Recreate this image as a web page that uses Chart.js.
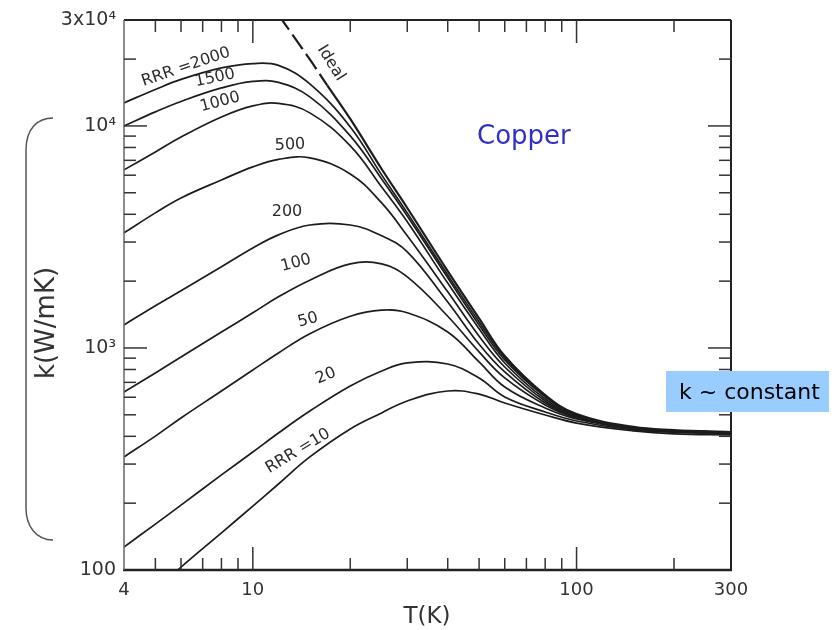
<!DOCTYPE html>
<html>
<head>
<meta charset="utf-8">
<title>Copper thermal conductivity</title>
<script src="https://cdn.jsdelivr.net/npm/chart.js@4.4.0/dist/chart.umd.min.js"></script>
<style>
    html, body { margin: 0; padding: 0; background: #ffffff; }
    #wrap { width: 836px; height: 630px; }
</style>
</head>
<body>
<div id="wrap"><canvas id="chart" width="836" height="630"></canvas></div>
<script>
// Temperatures (K) shared by the RRR curves
const temps = [4, 5, 6, 8, 10, 12, 15, 20, 25, 30, 40, 50, 60, 80, 100, 150, 200, 300];

// Thermal conductivity k (W/mK), one array per RRR
const rrr2000 = [12700, 14600, 16200, 18250, 19100, 18730, 15460, 9900, 6020, 4060, 2130, 1310, 902, 608, 499, 436, 423, 418];
const rrr1500 = [10000, 11570, 12890, 14830, 15870, 15700, 13510, 9020, 5770, 3930, 2070, 1270, 883, 602, 499, 436, 423, 418];
const rrr1000 = [6340, 7640, 8920, 10980, 12310, 12630, 11450, 8130, 5310, 3700, 1960, 1220, 856, 589, 494, 436, 423, 418];
const rrr500 = [3300, 4060, 4740, 5710, 6540, 7070, 7180, 6080, 4500, 3200, 1790, 1130, 821, 577, 489, 436, 423, 418];
const rrr200 = [1270, 1550, 1810, 2320, 2820, 3230, 3580, 3580, 3200, 2710, 1610, 1040, 780, 565, 489, 436, 423, 418];
const rrr100 = [634, 772, 911, 1180, 1440, 1700, 2020, 2390, 2390, 2090, 1390, 960, 733, 554, 484, 432, 423, 414];
const rrr50 = [323, 401, 484, 640, 796, 950, 1160, 1390, 1480, 1440, 1180, 865, 667, 537, 479, 432, 418, 414];
const rrr20 = [127, 161, 196, 268, 340, 414, 520, 674, 788, 856, 847, 733, 602, 515, 469, 427, 418, 410];
const rrr10 = [62, 81, 103, 147, 194, 244, 323, 432, 510, 577, 640, 620, 565, 499, 459, 423, 410, 406];

// The "ideal" (pure copper) limit, dashed at low T
const idealTemps = [12, 15, 17, 20, 25, 30, 40, 50, 60, 80, 100, 150, 200, 300];
const idealK = [31620, 19930, 15190, 10750, 6400, 4270, 2220, 1360, 920, 614, 504, 441, 427, 418];

// Axis labels and tick marks
const xTickValues = [4, 10, 100, 300];
const xTickLabels = ['4', '10', '100', '300'];
const yTickValues = [100, 1000, 10000, 30000];
const yTickLabels = ['100', '10³', '10⁴', '3x10⁴'];
const xMajorTicks = [10, 100];
const xMinorTicks = [5, 6, 7, 8, 9, 20, 30, 40, 50, 60, 70, 80, 90, 200];
const yMajorTicks = [1000, 10000];
const yMinorTicks = [200, 300, 400, 500, 600, 700, 800, 900, 2000, 3000, 4000, 5000, 6000, 7000, 8000, 9000, 20000];

function series(label, values) {
    return {
        label: label,
        data: temps.map((t, i) => ({ x: t, y: values[i] }))
    };
}

function line(ctx, x1, y1, x2, y2) {
    ctx.beginPath();
    ctx.moveTo(x1, y1);
    ctx.lineTo(x2, y2);
    ctx.stroke();
}

function rotatedText(ctx, text, x, y, angleDeg) {
    ctx.save();
    ctx.translate(x, y);
    ctx.rotate(angleDeg * Math.PI / 180);
    ctx.fillText(text, 0, 0);
    ctx.restore();
}

const decorations = {
    id: 'decorations',
    afterDatasetsDraw(chart) {
        const { ctx, chartArea: a, scales: { x, y } } = chart;
        ctx.save();

        // Frame
        ctx.strokeStyle = '#222';
        ctx.lineWidth = 2.5;
        line(ctx, a.left - 1, a.bottom, a.right + 1, a.bottom);
        ctx.lineWidth = 2;
        line(ctx, a.left, a.top, a.right, a.top);
        line(ctx, a.right, a.top, a.right, a.bottom);
        ctx.strokeStyle = '#666';
        ctx.lineWidth = 1.5;
        line(ctx, a.left, a.top, a.left, a.bottom);

        // Inward ticks on all four sides
        ctx.strokeStyle = '#333';
        ctx.lineWidth = 1.5;
        const minorLen = 12, majorLen = 23;
        xMinorTicks.concat(xMajorTicks).forEach(v => {
            const px = x.getPixelForValue(v);
            const len = xMajorTicks.includes(v) ? majorLen : minorLen;
            line(ctx, px, a.bottom, px, a.bottom - len);
            line(ctx, px, a.top, px, a.top + len);
        });
        yMinorTicks.concat(yMajorTicks).forEach(v => {
            const py = y.getPixelForValue(v);
            const len = yMajorTicks.includes(v) ? majorLen : minorLen;
            line(ctx, a.left, py, a.left + len, py);
            line(ctx, a.right, py, a.right - len, py);
        });

        // Curve labels
        ctx.fillStyle = '#2a2a2a';
        ctx.font = '16px "DejaVu Sans"';
        ctx.textAlign = 'center';
        ctx.textBaseline = 'middle';
        rotatedText(ctx, 'RRR =2000', 186, 67, -19);
        rotatedText(ctx, '1500', 215, 78, -12);
        rotatedText(ctx, '1000', 220, 102, -15);
        rotatedText(ctx, '500', 290, 145, -3);
        rotatedText(ctx, '200', 287, 212, 0);
        rotatedText(ctx, '100', 296, 263, -15);
        rotatedText(ctx, '50', 308, 320, -15);
        rotatedText(ctx, '20', 326, 376, -22);
        rotatedText(ctx, 'RRR =10', 298, 451, -31);
        rotatedText(ctx, 'Ideal', 331, 63, 58);

        // Axis titles
        ctx.fillStyle = '#333';
        ctx.font = '23px "DejaVu Sans"';
        ctx.fillText('T(K)', 427, 617);
        ctx.font = '26px "DejaVu Sans"';
        rotatedText(ctx, 'k(W/mK)', 47, 323, -90);

        // Bracket on the left
        ctx.strokeStyle = '#555';
        ctx.lineWidth = 1.5;
        ctx.beginPath();
        ctx.moveTo(53, 118);
        ctx.bezierCurveTo(38, 118, 26, 128, 26, 150);
        ctx.lineTo(26, 508);
        ctx.bezierCurveTo(26, 526, 36, 540, 53, 540);
        ctx.stroke();

        // "Copper"
        ctx.fillStyle = '#3030c8';
        ctx.font = '26px "DejaVu Sans"';
        ctx.textAlign = 'left';
        ctx.textBaseline = 'alphabetic';
        ctx.fillText('Copper', 477, 144);

        // "k ~ constant" box
        ctx.fillStyle = '#99ccff';
        ctx.fillRect(666, 371, 163, 41);
        ctx.fillStyle = '#000';
        ctx.font = '22px "DejaVu Sans"';
        ctx.fillText('k ~ constant', 679, 399);

        ctx.restore();
    }
};

const datasets = [
    series('RRR=2000', rrr2000),
    series('RRR=1500', rrr1500),
    series('RRR=1000', rrr1000),
    series('RRR=500', rrr500),
    series('RRR=200', rrr200),
    series('RRR=100', rrr100),
    series('RRR=50', rrr50),
    series('RRR=20', rrr20),
    series('RRR=10', rrr10),
    {
        label: 'Ideal',
        data: idealTemps.map((t, i) => ({ x: t, y: idealK[i] })),
        borderWidth: 2.2,
        segment: {
            borderDash: c => (c.p1DataIndex <= 2 ? [18, 6] : undefined)
        }
    }
];

new Chart(document.getElementById('chart'), {
    type: 'line',
    data: { datasets: datasets },
    options: {
        responsive: false,
        animation: false,
        layout: { padding: { top: 20, right: 105, left: 0, bottom: 0 } },
        plugins: {
            legend: { display: false },
            tooltip: { enabled: false }
        },
        elements: {
            point: { radius: 0 },
            line: {
                tension: 0.4,
                borderColor: '#1c1c1c',
                borderWidth: 1.7,
                fill: false
            }
        },
        scales: {
            x: {
                type: 'logarithmic',
                min: 4,
                max: 300,
                grid: { display: false, drawTicks: false },
                border: { display: false },
                afterBuildTicks: s => { s.ticks = xTickValues.map(v => ({ value: v })); },
                afterFit: s => { s.height = 60; },
                ticks: {
                    autoSkip: false,
                    maxRotation: 0,
                    padding: 10,
                    color: '#333',
                    font: { family: 'DejaVu Sans', size: 18 },
                    callback: (value, index) => xTickLabels[index]
                }
            },
            y: {
                type: 'logarithmic',
                min: 100,
                max: 30000,
                grid: { display: false, drawTicks: false },
                border: { display: false },
                afterBuildTicks: s => { s.ticks = yTickValues.map(v => ({ value: v })); },
                afterFit: s => { s.width = 124; },
                ticks: {
                    autoSkip: false,
                    padding: 8,
                    color: '#333',
                    font: { family: 'DejaVu Sans', size: 19 },
                    callback: (value, index) => yTickLabels[index]
                }
            }
        }
    },
    plugins: [decorations]
});
</script>
</body>
</html>
